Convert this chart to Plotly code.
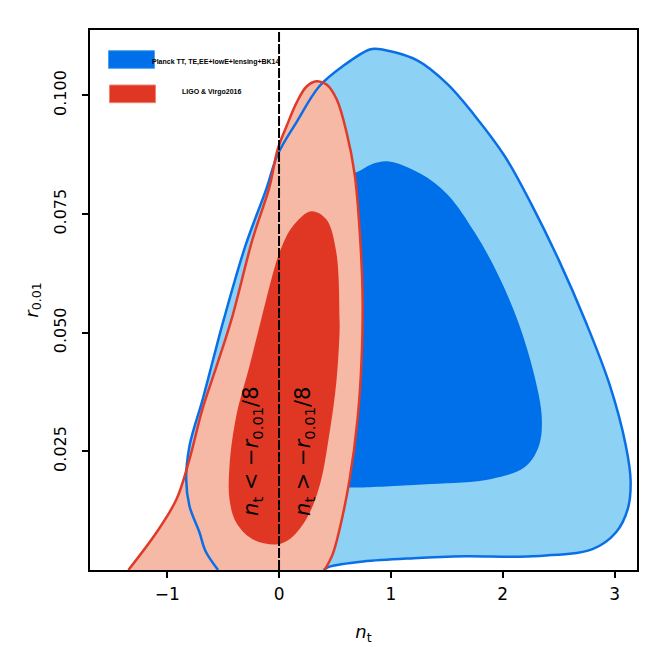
import plotly.graph_objects as go

# Planck TT,TE,EE+lowE+lensing+BK14 - outer (95%) contour, bottom-left -> top -> bottom-right
planck95_nt = [-0.545, -0.658, -0.711, -0.801, -0.830, -0.801, -0.682, -0.581, -0.494, -0.301,
               -0.115, -0.011, 0.154, 0.362, 0.571, 0.810, 0.889, 1.235, 1.506, 1.748,
               2.018, 2.260, 2.501, 2.743, 2.953, 3.101, 3.143, 3.119, 3.011, 2.802,
               2.260, 1.657, 1.204, 0.753, 0.452, 0.398]
planck95_r = [0.0, 0.0040, 0.0079, 0.0135, 0.0191, 0.0261, 0.0360, 0.0451, 0.0528, 0.0683,
              0.0802, 0.0876, 0.0943, 0.1020, 0.1062, 0.1097, 0.1098, 0.1074, 0.1024, 0.0958,
              0.0872, 0.0769, 0.0653, 0.0522, 0.0392, 0.0261, 0.0188, 0.0130, 0.0079, 0.0044,
              0.0029, 0.0029, 0.0025, 0.0018, 0.0007, 0.0]

# Planck inner (68%) contour
planck68_nt = [0.694, 0.828, 0.980, 1.266, 1.508, 1.750, 1.955, 2.139, 2.286, 2.349,
               2.322, 2.197, 1.898, 1.356, 0.753, 0.586, 0.541, 0.541, 0.694]
planck68_r = [0.0838, 0.0855, 0.0861, 0.0835, 0.0791, 0.0711, 0.0624, 0.0522, 0.0406, 0.0320,
              0.0261, 0.0217, 0.0192, 0.0181, 0.0174, 0.0174, 0.0174, 0.0833, 0.0838]

# LIGO & Virgo2016 - outer contour, bottom-left -> top -> bottom-right
ligo95_nt = [-1.347, -1.096, -0.917, -0.801, -0.685, -0.559, -0.425, -0.237, -0.085, -0.013,
             0.067, 0.157, 0.246, 0.336, 0.425, 0.515, 0.604, 0.676, 0.720, 0.747,
             0.738, 0.702, 0.631, 0.541, 0.479, 0.407]
ligo95_r = [0.0, 0.0079, 0.0149, 0.0233, 0.0339, 0.0429, 0.0528, 0.0697, 0.0808, 0.0886,
            0.0935, 0.0985, 0.1019, 0.1030, 0.1023, 0.0992, 0.0922, 0.0834, 0.0718, 0.0571,
            0.0444, 0.0318, 0.0191, 0.0086, 0.0033, 0.0]

# LIGO & Virgo2016 - inner contour
ligo68_nt = [0.288, 0.422, 0.512, 0.541, 0.541, 0.512, 0.452, 0.362, 0.243, 0.094,
             -0.025, -0.237, -0.383, -0.443, -0.443, -0.383, -0.264, -0.115, -0.085, 0.004,
             0.121, 0.288]
ligo68_r = [0.0756, 0.0739, 0.0669, 0.0528, 0.0501, 0.0395, 0.0290, 0.0177, 0.0107, 0.0065,
            0.0054, 0.0065, 0.0100, 0.0149, 0.0219, 0.0324, 0.0430, 0.0570, 0.0598, 0.0669,
            0.0724, 0.0756]

consistency_nt = 0.0
x_range = [-1.69, 3.20]
y_range = [0.0, 0.1138]
y_ticks = [0.025, 0.050, 0.075, 0.100]
x_ticks = [-1, 0, 1, 2, 3]
x_ticklabels = ["\u22121", "0", "1", "2", "3"]

BLUE_LIGHT = "#8dd2f5"
BLUE_DARK = "#006fea"
BLUE_LINE = "#0a6fe6"
RED_LIGHT = "#f6b9a6"
RED_DARK = "#e03725"
RED_LINE = "#df3a2a"

fig = go.Figure()
fig.add_trace(go.Scatter(x=planck95_nt, y=planck95_r, fill="toself", fillcolor=BLUE_LIGHT,
                         mode="lines", line=dict(width=0, shape="spline"), hoverinfo="skip"))
fig.add_trace(go.Scatter(x=planck68_nt, y=planck68_r, fill="toself", fillcolor=BLUE_DARK,
                         mode="lines", line=dict(width=0, shape="spline"), hoverinfo="skip"))
fig.add_trace(go.Scatter(x=ligo95_nt, y=ligo95_r, fill="toself", fillcolor=RED_LIGHT,
                         mode="lines", line=dict(width=0, shape="spline"), hoverinfo="skip"))
fig.add_trace(go.Scatter(x=ligo68_nt, y=ligo68_r, fill="toself", fillcolor=RED_DARK,
                         mode="lines", line=dict(width=0, shape="spline"), hoverinfo="skip"))
# contour outlines on top
fig.add_trace(go.Scatter(x=planck95_nt, y=planck95_r, mode="lines",
                         line=dict(color=BLUE_LINE, width=2.5, shape="spline"), hoverinfo="skip"))
fig.add_trace(go.Scatter(x=ligo95_nt, y=ligo95_r, mode="lines",
                         line=dict(color=RED_LINE, width=2.5, shape="spline"), hoverinfo="skip"))

fig.add_vline(x=consistency_nt, line=dict(color="black", width=2, dash="10px,2px"))

# rotated labels either side of n_t = -r/8
fig.add_annotation(x=-0.237, y=0.025, text="<i>n</i><sub>t</sub> < \u2212<i>r</i><sub>0.01</sub>/8",
                   textangle=-90, showarrow=False, font=dict(size=21, color="black"))
fig.add_annotation(x=0.228, y=0.025, text="<i>n</i><sub>t</sub> > \u2212<i>r</i><sub>0.01</sub>/8",
                   textangle=-90, showarrow=False, font=dict(size=21, color="black"))

# legend drawn by hand
fig.add_shape(type="rect", xref="paper", yref="paper", x0=0.0338, x1=0.1179, y0=0.929, y1=0.9617,
              fillcolor=BLUE_DARK, line=dict(color="#4aa0f0", width=1))
fig.add_shape(type="rect", xref="paper", yref="paper", x0=0.0356, x1=0.1197, y0=0.8654, y1=0.8981,
              fillcolor=RED_DARK, line=dict(color="#f08070", width=1))
legend_font = dict(family="Liberation Sans", size=7, color="black")
fig.add_annotation(xref="paper", yref="paper", x=0.2298, y=0.9413, xanchor="center", yanchor="middle",
                   text="<b>Planck TT, TE,EE+lowE+lensing+BK14</b>", showarrow=False, font=legend_font)
fig.add_annotation(xref="paper", yref="paper", x=0.223, y=0.8846, xanchor="center", yanchor="middle",
                   text="<b>LIGO & Virgo2016</b>", showarrow=False, font=legend_font)

axis_common = dict(showline=True, linecolor="black", linewidth=1.5, mirror=True,
                   ticks="outside", ticklen=6, tickwidth=1.5, tickcolor="black",
                   showgrid=False, zeroline=False)
fig.update_xaxes(range=x_range, tickvals=x_ticks, ticktext=x_ticklabels, ticklabelstandoff=2,
                 tickfont=dict(family="DejaVu Sans", size=17, color="black"),
                 title=dict(text="<i>n</i><sub>t</sub>", font=dict(family="DejaVu Sans", size=18, color="black"),
                            standoff=22),
                 **axis_common)
fig.update_yaxes(range=y_range, tickvals=y_ticks, tickformat=".3f", tickangle=-90, ticklabelstandoff=10,
                 tickfont=dict(family="DejaVu Sans", size=16, color="black"),
                 title=dict(text="<i>r</i><sub>0.01</sub>", font=dict(family="DejaVu Sans", size=18, color="black"),
                            standoff=8),
                 **axis_common)
fig.update_layout(width=656, height=657, margin=dict(l=82, r=27, t=22, b=95),
                  plot_bgcolor="white", paper_bgcolor="white", showlegend=False,
                  font=dict(family="DejaVu Sans"))

fig.write_html("out.html")
